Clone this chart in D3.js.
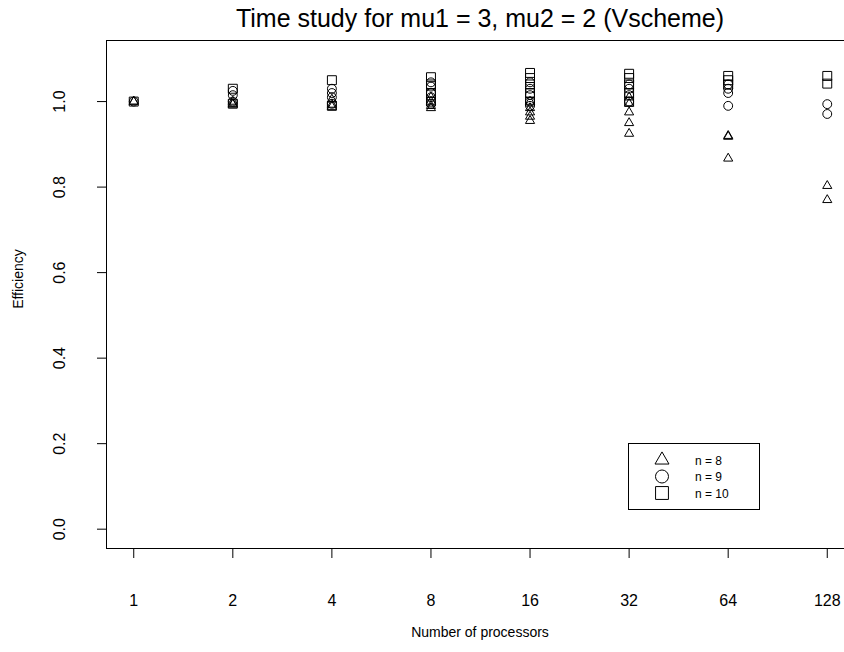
<!DOCTYPE html>
<html>
<head>
<meta charset="utf-8">
<script src="https://cdn.jsdelivr.net/npm/d3@7"></script>
<style>
  body { margin: 0; background: #fff; }
  text { font-family: "Liberation Sans", Arial, sans-serif; fill: #000; }
</style>
</head>
<body>
<div id="graph"></div>
<script>
var procs = [1, 2, 4, 8, 16, 32, 64, 128];
var seriesNames = ['n = 8', 'n = 9', 'n = 10'];
var yTicks = [0.0, 0.2, 0.4, 0.6, 0.8, 1.0];

// efficiency per processor count, several runs each
var effN8 = [[1.0, 1.0],
             [0.993, 0.995, 1.0],
             [0.988, 0.993, 1.005],
             [0.985, 0.99, 1.0, 1.01],
             [0.955, 0.965, 0.975, 0.985, 1.0],
             [0.925, 0.95, 0.975, 0.995, 1.01],
             [0.867, 0.918, 0.92],
             [0.77, 0.803]];
var effN9 = [[1.0],
             [1.0, 1.015, 1.025],
             [0.995, 1.01, 1.02, 1.03],
             [0.995, 1.01, 1.02, 1.035, 1.045],
             [0.99, 1.0, 1.015, 1.03, 1.045],
             [1.0, 1.015, 1.03, 1.04],
             [0.99, 1.02, 1.03, 1.04],
             [0.971, 0.994]];
var effN10 = [[1.0],
              [0.995, 1.03],
              [0.99, 1.05],
              [1.0, 1.02, 1.04, 1.057],
              [1.0, 1.02, 1.04, 1.055, 1.067],
              [1.0, 1.02, 1.04, 1.055, 1.065],
              [1.04, 1.05, 1.06],
              [1.042, 1.06]];

var width = 844, height = 652;
var mLeft = 106, mTop = 40, mRight = 855, mBottom = 548;

var svg = d3.select('#graph').append('svg')
  .attr('width', width).attr('height', height);

var x = d3.scaleLinear().domain([0.72, 8.28]).range([mLeft, mRight]);
var y = d3.scaleLinear().domain([-0.044, 1.144]).range([mBottom, mTop]);

// build point list
var points = [];
[effN8, effN9, effN10].forEach(function(series, s){
  series.forEach(function(vals, i){
    vals.forEach(function(v){ points.push({s: s, i: i, v: v}); });
  });
});

var shapes = [d3.symbolTriangle, d3.symbolCircle, d3.symbolSquare];
var sizes = [36, 62, 80];
var legendSizes = [85, 133, 165];

svg.selectAll('path.pt').data(points).enter()
  .append('path')
  .attr('class', 'pt')
  .attr('d', function(d){ return d3.symbol().type(shapes[d.s]).size(sizes[d.s])(); })
  .attr('transform', function(d){ return 'translate(' + x(d.i + 1) + ',' + y(d.v) + ')'; })
  .attr('fill', 'none')
  .attr('stroke', '#000')
  .attr('stroke-width', 1);

// box
svg.append('rect')
  .attr('x', mLeft + 0.5).attr('y', mTop + 0.5)
  .attr('width', mRight - mLeft).attr('height', mBottom - mTop)
  .attr('fill', 'none').attr('stroke', '#000').attr('stroke-width', 1);

// x axis
var xAxis = svg.append('g');
xAxis.selectAll('line').data(procs).enter().append('line')
  .attr('x1', function(d, i){ return x(i + 1); })
  .attr('x2', function(d, i){ return x(i + 1); })
  .attr('y1', mBottom).attr('y2', mBottom + 10)
  .attr('stroke', '#000');
xAxis.selectAll('text').data(procs).enter().append('text')
  .attr('x', function(d, i){ return x(i + 1); })
  .attr('y', 606)
  .attr('text-anchor', 'middle')
  .style('font-size', '16px')
  .text(function(d){ return d; });

// y axis
var yAxis = svg.append('g');
yAxis.selectAll('line.tk').data(yTicks).enter().append('line')
  .attr('class', 'tk')
  .attr('x1', mLeft - 9).attr('x2', mLeft)
  .attr('y1', function(d){ return y(d); })
  .attr('y2', function(d){ return y(d); })
  .attr('stroke', '#000');
yAxis.selectAll('text').data(yTicks).enter().append('text')
  .attr('transform', function(d){ return 'translate(65,' + y(d) + ') rotate(-90)'; })
  .attr('text-anchor', 'middle')
  .style('font-size', '16px')
  .text(function(d){ return d.toFixed(1); });

// titles
svg.append('text')
  .attr('x', 480).attr('y', 27)
  .attr('text-anchor', 'middle')
  .style('font-size', '25px')
  .text('Time study for mu1 = 3, mu2 = 2 (Vscheme)');

svg.append('text')
  .attr('x', 480).attr('y', 637)
  .attr('text-anchor', 'middle')
  .style('font-size', '14px')
  .text('Number of processors');

svg.append('text')
  .attr('transform', 'translate(23,' + y(0.585) + ') rotate(-90)')
  .attr('text-anchor', 'middle')
  .style('font-size', '14px')
  .text('Efficiency');

// legend
var lg = svg.append('g');
lg.append('rect')
  .attr('x', 628.5).attr('y', 443.5)
  .attr('width', 131).attr('height', 66)
  .attr('fill', '#fff').attr('stroke', '#000');
var legendY = d3.scalePoint().domain(seriesNames).range([460, 493]);
seriesNames.forEach(function(name, s){
  lg.append('path')
    .attr('d', d3.symbol().type(shapes[s]).size(legendSizes[s])())
    .attr('transform', 'translate(662,' + legendY(name) + ')')
    .attr('fill', 'none').attr('stroke', '#000');
  lg.append('text')
    .attr('x', 695).attr('y', legendY(name) + 4.5)
    .style('font-size', '12px')
    .text(name);
});
</script>
</body>
</html>
